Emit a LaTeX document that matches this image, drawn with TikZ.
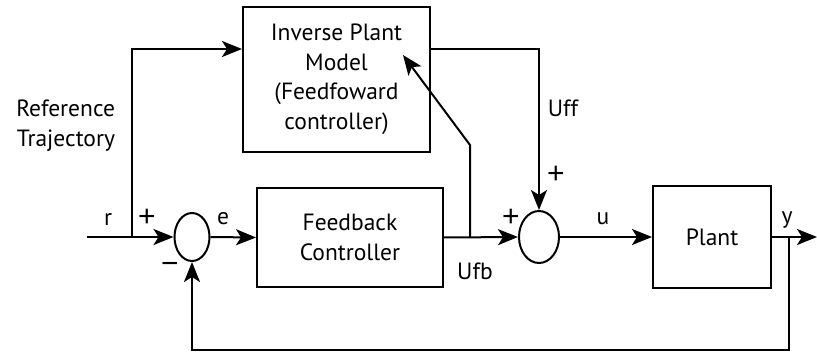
\documentclass[tikz,border=0pt]{standalone}
\usepackage{fontspec}
\setmainfont{PT Sans}
\newfontfamily\signfont{Liberation Sans}
\usetikzlibrary{arrows.meta,shapes.geometric}
\begin{document}
\begin{tikzpicture}[x=1pt,y=-1pt,
  line width=2pt,
  font=\fontsize{23.5}{29.5}\selectfont,
  arr/.style={-{Stealth[length=20pt,width=16pt,inset=5pt]}},
  blk/.style={draw,rectangle,inner sep=0pt,align=center},
  sum/.style={draw,ellipse,inner sep=0pt},
  lbl/.style={inner sep=0pt,anchor=base},
  sgn/.style={inner sep=0pt,font=\signfont\fontsize{30}{30}\selectfont}]
\useasboundingbox (0,0) rectangle (817,353);
\node[blk,minimum width=187pt,minimum height=145pt] (ipm) at (336.5,79.5)
  {Inverse Plant\\Model\\(Feedfoward\\controller)};
\node[blk,minimum width=186pt,minimum height=99pt] (fbc) at (350,237.5)
  {Feedback\\Controller};
\node[blk,minimum width=118pt,minimum height=102pt] (plant) at (712,237) {Plant};
\node[sum,minimum width=35pt,minimum height=48pt] (s1) at (192,237) {};
\node[sum,minimum width=40pt,minimum height=52pt] (s2) at (539,237) {};
\coordinate (in) at (87,237);
\coordinate (b1) at (132,237);
\coordinate (b2) at (470,237);
\coordinate (b2k) at (470,145);
\coordinate (b2t) at (403,55);
\coordinate (b3) at (789,237);
\coordinate (b3d) at (789,350);
\coordinate (out) at (817,237);
% connectors
\draw[arr] (in) -- (s1.west);
\draw[arr] (b1) |- ([yshift=30.5pt]ipm.west);
\draw[arr] (s1.east) -- (fbc.west);
\draw[arr] (fbc.east) -- (s2.west);
\draw[arr] (b2) -- (b2k) -- (b2t);
\draw[arr] ([yshift=30.5pt]ipm.east) -| (s2.north);
\draw[arr] (s2.east) -- (plant.west);
\draw[arr] (plant.east) -- (out);
\draw[arr] (b3) -- (b3d) -| (s1.south);
% labels
\node[inner sep=0pt,align=right,anchor=base east] (ref) at (116,146) {Reference\\Trajectory};
\node[lbl] (lr) at (108,225) {r};
\node[sgn] (lp1) at (147,218) {+};
\node[lbl] (le) at (223,224) {e};
\node[sgn] (lm) at (170,268) {\char"2212};
\node[lbl] (lufb) at (475,279) {Ufb};
\node[sgn] (lp2) at (511,218) {+};
\node[lbl] (lu) at (603,224) {u};
\node[sgn] (lp3) at (556,175) {+};
\node[lbl] (luff) at (563,117) {Uff};
\node[lbl] (ly) at (787,223) {y};
\end{tikzpicture}
\end{document}
